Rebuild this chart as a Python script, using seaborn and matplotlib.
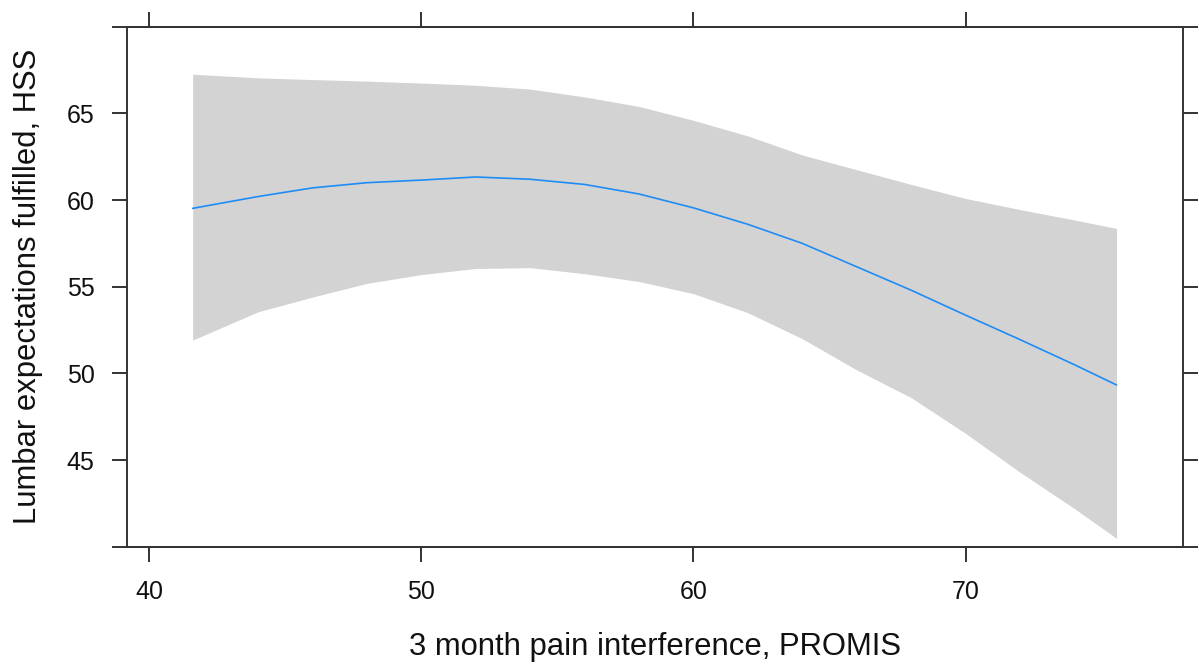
import matplotlib
matplotlib.use("Agg")
import matplotlib.pyplot as plt
import seaborn as sns
import pandas as pd

# Data
promis = [41.6, 44, 46, 48, 50, 52, 54, 56, 58, 60, 62, 64, 66, 68, 70, 72, 74, 75.55]
fit = [59.52, 60.2, 60.7, 61.0, 61.15, 61.33, 61.2, 60.9, 60.35, 59.55, 58.6, 57.5,
       56.15, 54.8, 53.36, 51.95, 50.5, 49.33]
upper = [67.26, 67.05, 66.95, 66.86, 66.75, 66.62, 66.4, 65.95, 65.4, 64.6, 63.7, 62.6,
         61.75, 60.9, 60.09, 59.45, 58.85, 58.36]
lower = [51.92, 53.55, 54.4, 55.19, 55.7, 56.05, 56.1, 55.75, 55.3, 54.6, 53.5, 52.0,
         50.2, 48.6, 46.54, 44.3, 42.2, 40.48]
x_ticks = [40, 50, 60, 70]
y_ticks = [45, 50, 55, 60, 65]

sns.set_style("white")
plt.rcParams['font.family'] = ['Liberation Sans', 'DejaVu Sans']

df = pd.DataFrame({"x": promis, "fit": fit, "lo": lower, "hi": upper})

fig = plt.figure(figsize=(11.99, 6.66), dpi=100)
left, right, bottom, top = 126.8 / 1199, 1182.7 / 1199, 1 - 546.7 / 666, 1 - 26.7 / 666
ax = fig.add_axes([left, bottom, right - left, top - bottom])

ax.fill_between(df["x"], df["lo"], df["hi"], color="#d3d3d3", linewidth=0, zorder=1)
sns.lineplot(data=df, x="x", y="fit", ax=ax, color="#1e8cf5", linewidth=1.2, zorder=2)

ax.set_xlim(39.18, 77.98)
ax.set_ylim(40, 70)
ax.set_xticks(x_ticks)
ax.set_yticks(y_ticks)

spine_col = "#333333"
for s in ax.spines.values():
    s.set_visible(True)
    s.set_color(spine_col)
    s.set_linewidth(1.4)

# lattice-style horizontal box lines extend past the vertical sides
ext = 15 / 1056
for yy in (0, 1):
    ax.plot([-ext, 1 + ext], [yy, yy], transform=ax.transAxes, clip_on=False,
            color=spine_col, linewidth=1.4, solid_capstyle="butt", zorder=5)

ax.tick_params(axis="both", which="both", direction="out", length=10.8, width=1.4,
               color=spine_col, labelsize=18, labelcolor="#111111",
               top=True, right=True, left=True, bottom=True,
               labeltop=False, labelright=False)
ax.tick_params(axis="x", pad=13)
ax.tick_params(axis="y", pad=12.5)

ax.set_xlabel("3 month pain interference, PROMIS", fontsize=22.3, color="#111111", labelpad=20)
ax.set_ylabel("Lumbar expectations fulfilled, HSS", fontsize=22.3, color="#111111", labelpad=17)
ax.grid(False)

fig.savefig("out.png", dpi=100, facecolor="white")
